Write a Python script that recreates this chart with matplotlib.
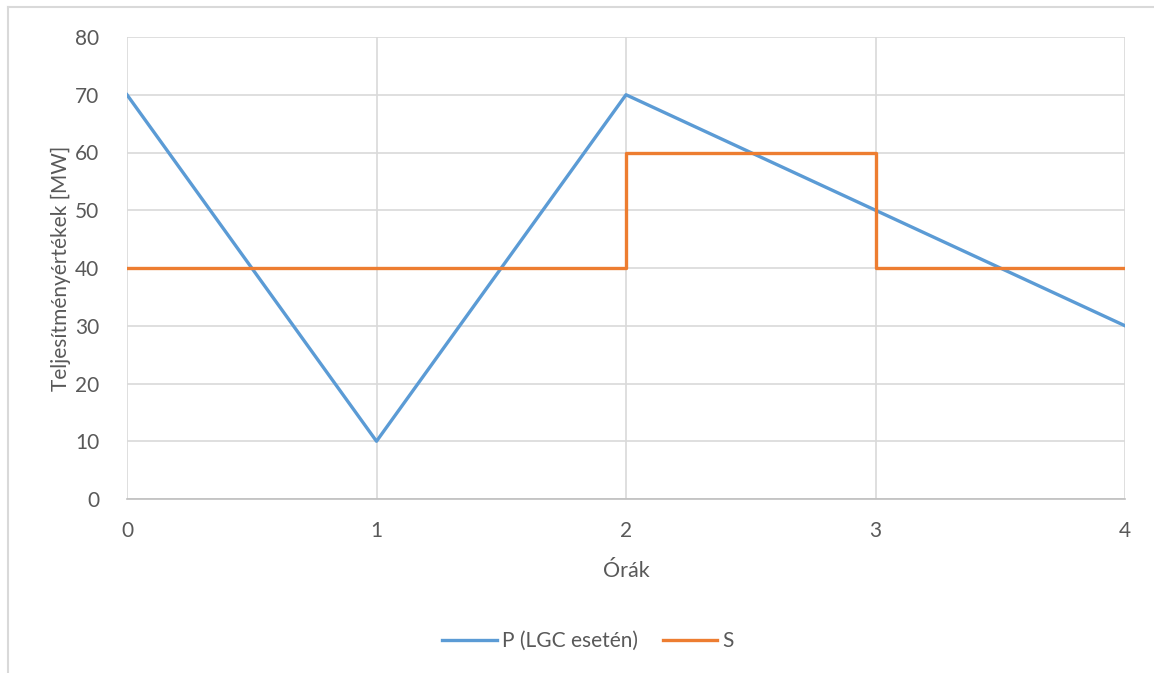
import matplotlib.pyplot as plt
from matplotlib.lines import Line2D

# Adatok
orak = [0, 1, 2, 3, 4]
p_lgc = [70, 10, 70, 50, 30]
s_ertek = [40, 40, 60, 40, 40]
y_ticks = [0, 10, 20, 30, 40, 50, 60, 70, 80]

plt.rcParams['font.family'] = ['Lato', 'DejaVu Sans']
szoveg = '#595959'
racs = '#D9D9D9'

W, H = 1154, 673
fig = plt.figure(figsize=(W / 100, H / 100), dpi=100)
ax = fig.add_axes([127 / W, 1 - 499 / H, (1125 - 127) / W, (499 - 37) / H])

ax.plot(orak, p_lgc, color='#5B9BD5', lw=2.4, label='P (LGC esetén)', zorder=3)
ax.plot(orak, s_ertek, color='#ED7D31', lw=2.4, label='S', drawstyle='steps-post',
        zorder=3)

ax.set_xlim(0, 4)
ax.set_ylim(0, 80)
ax.set_xticks(orak)
ax.set_yticks(y_ticks)
ax.grid(True, color=racs, lw=1.2)
ax.set_axisbelow(True)
for side in ['top', 'right', 'left']:
    ax.spines[side].set_visible(False)
ax.spines['bottom'].set_color('#BFBFBF')
ax.spines['bottom'].set_linewidth(1.2)
ax.tick_params(length=0, colors=szoveg, labelsize=15)
ax.tick_params(axis='x', pad=16)
ax.tick_params(axis='y', pad=20)

ax.set_xlabel('Órák', color=szoveg, fontsize=15.5, labelpad=14)
ax.set_ylabel('Teljesítményértékek [MW]', color=szoveg, fontsize=15, labelpad=3)

fig.legend(loc='center', bbox_to_anchor=(588 / W, 1 - 641 / H), ncol=2, frameon=False,
           fontsize=15, labelcolor=szoveg, handlelength=2.6, columnspacing=1.2,
           handletextpad=0.25)

# Diagram keret (bal és felső él)
fig.add_artist(Line2D([7.5 / W, 7.5 / W], [0, 1 - 6.5 / H], color=racs, lw=1.5,
                      transform=fig.transFigure))
fig.add_artist(Line2D([7.5 / W, 1], [1 - 6.5 / H, 1 - 6.5 / H], color=racs, lw=1.5,
                      transform=fig.transFigure))

fig.savefig('out.png', dpi=100)
